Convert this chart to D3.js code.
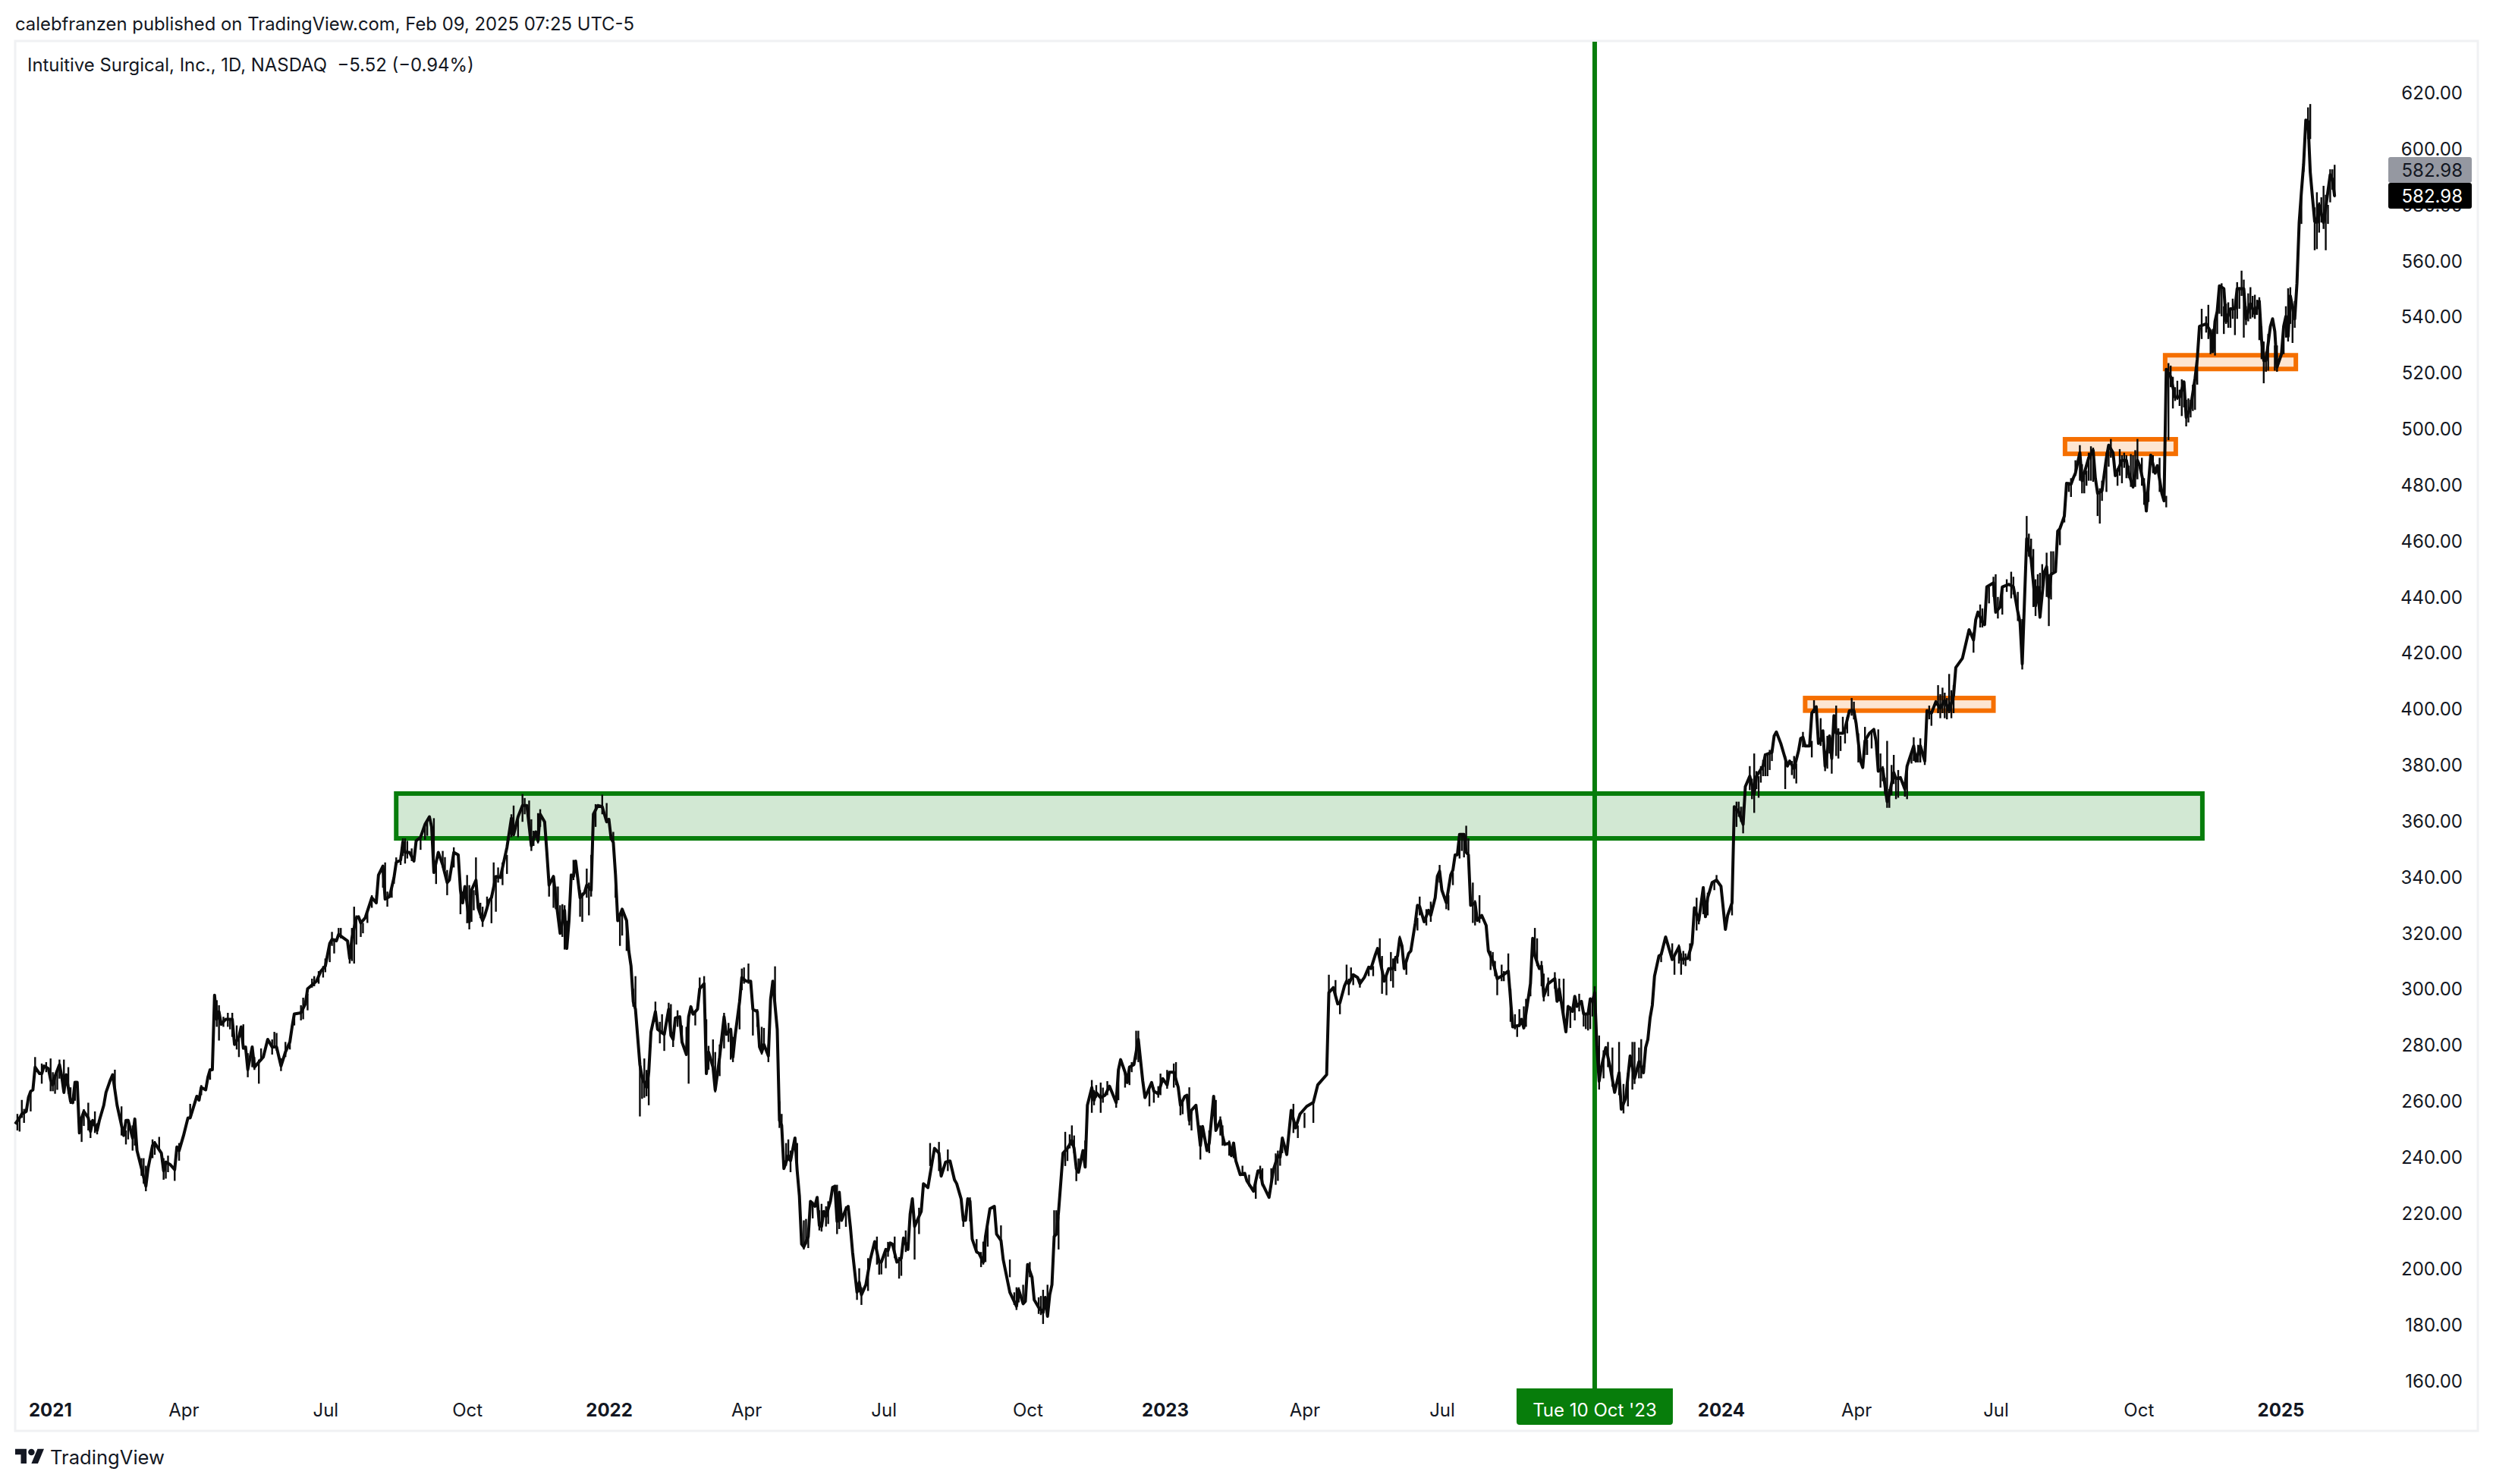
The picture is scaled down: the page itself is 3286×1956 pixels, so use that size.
<!DOCTYPE html>
<html><head><meta charset="utf-8">
<script src="https://cdn.jsdelivr.net/npm/d3@7"></script>
<style>html,body{margin:0;padding:0;background:#fff}svg{display:block}text{font-family:Inter,"Noto Sans",sans-serif}</style>
</head><body><svg id="c" width="3286" height="1956"></svg>
<script>
// [session number, close]
const close2021=[[0,251.7],[2,253.9],[3,255.3],[5,256.2],[6,261.2],[7,263.4],[8,263.9],[9,272],[11,269.7],[12,269.7],[13,272.4],[15,271.5],[16,267.5],[17,265.7],[18,268.8],[20,272.9],[21,268.8],[22,263],[23,269.3],[25,259.8],[26,259.3],[27,266.6],[28,266.6],[29,248.5],[30,253.9],[31,256.2],[33,253.9],[34,249],[35,253],[37,249.4],[38,253],[40,258.4],[41,263],[43,267.5],[44,269.3],[45,263.9],[46,258.4],[49,247.6],[50,253],[51,253],[53,246.7],[54,253.5],[55,242.2],[57,235.9],[59,229.5],[60,235.9],[62,244],[63,244.9],[66,241.3],[67,235],[68,238.1],[70,237.2],[72,235.4],[73,243.5],[74,242.2],[76,247.6],[78,253.9],[79,253.9],[82,261.6],[83,260.2],[84,264.8],[86,263.9],[87,268.4],[88,271.1],[89,271.1],[90,297.7],[91,289.1],[92,291.8],[93,287.3],[95,289.1],[98,289.1],[99,280.1],[101,282.8],[102,286.4],[103,278.8],[104,279.2],[105,271.1],[107,279.2],[108,272],[110,273.8],[112,275.6],[114,281.9],[116,279.2],[118,279.2],[120,272.4],[122,277.4],[124,281],[125,286.4],[126,291],[129,291.4],[131,294.6],[132,300],[136,302.7],[138,306.3],[140,308.1],[142,316.2],[143,317.6],[145,317.1],[146,319.4],[150,317.1],[151,310.8],[152,318],[154,325.3],[155,325.7],[156,323.5],[158,325.3],[161,332.5],[163,330.7],[164,340.6],[166,343.8],[167,332],[169,332.9],[171,339.7],[172,345.1],[174,346],[175,352.4],[176,348.7],[178,348.7],[180,345.6],[181,352.8],[183,354.1],[185,358.7],[187,361.4],[188,357.8],[189,341.5],[191,348.7],[193,344.2],[195,337.9],[196,338.8],[198,348.7],[200,347.8],[201,335.2],[202,330.7],[203,336.5],[205,323.9],[206,335.2],[208,338.8],[209,328.9],[211,324.3],[212,326.2],[214,331.6],[215,332.5],[217,340.1],[219,339.7],[222,350.5],[224,360.9],[225,355],[227,361.4],[229,365.4],[231,365.4],[233,351],[235,356],[236,352.8],[237,362.3],[239,359.6],[240,348.7],[241,337],[243,340.1],[244,332.5],[246,319.8],[248,328],[249,314.4],[250,324.3],[251,340.6],[252,340.1],[253,345.6],[255,332.5],[257,334.3],[258,337],[260,335.2],[261,362.3],[263,365.4],[265,365]];
const close2022=[[267,359.6],[268,360.5],[269,353.7],[270,352.3],[271,340.6],[272,324.3],[274,328.4],[276,324.3],[277,313.5],[278,308.1],[279,295.4],[280,292.7],[282,272.9],[283,268.4],[285,264.8],[286,270.2],[287,284.6],[289,291.8],[290,285.5],[293,283.7],[295,292.7],[296,283.3],[297,281.9],[298,289.6],[300,290],[301,281],[303,276.5],[304,290],[305,293.6],[306,290.9],[308,292.7],[309,300],[311,301.8],[312,269.7],[313,277.4],[315,272],[316,263.8],[318,275.6],[320,290],[321,283.7],[323,285.5],[324,275.6],[325,283.3],[327,295.4],[328,304],[330,302.7],[332,302.7],[333,292.7],[335,291.8],[336,279.2],[337,277.4],[338,280.1],[340,276],[341,296.3],[342,302.7],[344,285.5],[345,253],[346,251.2],[347,235.8],[349,240.4],[350,238.6],[352,246.7],[353,235],[354,226],[355,208.8],[356,207.8],[358,211.5],[359,224.1],[361,222.3],[362,225.5],[363,215.5],[364,215.1],[365,220.5],[366,218.7],[368,224.1],[369,229.1],[370,229.5],[371,216.9],[372,227.3],[373,217.3],[375,221.4],[376,222.3],[377,215.1],[378,206],[380,191.6],[381,195.2],[382,190.7],[384,194.3],[386,203.3],[388,209.7],[390,202.4],[391,202.4],[393,206.9],[394,206.5],[395,209.2],[396,208.8],[398,202.4],[400,203.8],[401,211],[403,206.9],[404,219.6],[405,225],[406,215.1],[408,218.7],[409,220.5],[410,230.4],[412,229],[414,238.5],[415,243],[417,241.3],[418,233.1],[420,238.1],[422,238.5],[424,231.8],[425,230.4],[427,225],[428,217.3],[429,217.3],[430,225],[431,224.1],[432,210.6],[434,206],[435,205.6],[437,202.4],[438,211.5],[440,221.4],[442,222.3],[443,212.4],[445,210.1],[446,203.3],[449,191.6],[452,186.6],[453,192.5],[455,187.5],[456,188.4],[457,201.5],[459,197],[460,188.9],[462,186.2],[464,184.4],[465,189.8],[466,183],[467,190.7],[468,194.3],[469,211.5],[470,212.4],[471,220.5],[473,241.3],[475,243],[477,245.8],[478,243],[479,235.8],[480,234.5],[482,242.2],[483,236.3],[484,258.4],[486,264.7],[487,260.2],[488,262.9],[490,261.1],[492,262],[494,265.2],[497,259.3],[498,271],[499,274.7],[501,270.2],[502,266.5],[503,272],[505,272.9],[507,281.9],[509,267],[510,261.1],[513,266.5],[514,263.4],[516,262.5],[518,267.9]];
const close2023=[[520,265.6],[521,270.2],[523,270.2],[525,264.8],[526,258.4],[528,261.6],[529,262],[530,253],[531,256.6],[533,258.4],[535,244],[536,250.8],[538,242.2],[539,244.9],[541,261.6],[542,249.4],[544,253],[545,247.6],[546,244.4],[548,244.9],[549,240.4],[550,244.9],[551,238.6],[553,233.6],[555,234.1],[556,231.4],[559,227.7],[561,235],[562,235],[563,230.4],[566,225.5],[568,235.4],[570,240.4],[571,239.9],[572,246.7],[574,240.8],[576,256.6],[578,250.3],[580,255.3],[583,258],[586,259.4],[588,265.7],[592,269.3],[593,298.6],[595,300.4],[597,294.6],[598,295],[600,300.9],[601,302.7],[602,301.8],[604,305],[606,304],[607,301.8],[609,304],[611,307.7],[612,307.2],[614,312.2],[615,314.4],[618,302.7],[620,307.2],[622,307.2],[623,310.8],[624,311.7],[625,318],[626,315.3],[627,307.2],[629,312.6],[630,313.5],[632,323.5],[633,329.8],[634,329.3],[636,323.9],[638,328],[639,326.2],[641,332.5],[642,340.2],[643,342],[644,335.2],[646,330.7],[648,340.6],[649,342.4],[650,347.8],[651,347.8],[652,355.1],[654,355.1],[655,348.7],[656,347.8],[657,329.8],[659,330.7],[660,324.4],[662,326.2],[664,322.6],[665,313.5],[667,309.9],[669,303.6],[671,304.5],[674,306.3],[676,286.4],[679,286.9],[680,289.1],[681,286],[684,301.8],[685,318],[686,311.7],[688,307.2],[689,308.1],[690,297.3],[692,301.8],[695,303.6],[696,295.5],[697,300],[700,284.6],[701,293.7],[703,291.9],[704,297.3],[705,293.7],[707,295.5],[708,291],[710,291],[711,296.4],[712,295.5],[713,298.6],[714,279.2],[715,267],[716,272],[718,279],[720,272],[722,263],[724,270],[725,257],[727,261],[729,276],[731,268],[733,274],[735,270],[736,279],[737,281.9],[738,289.6],[739,294.1],[740,304.5],[742,311.7],[743,312.2],[745,318.5],[748,310.4],[751,314.9],[752,310.4],[755,310.8],[757,316.2],[758,328.9],[760,324.4],[762,336.1],[763,325.7],[764,332.5],[766,337.9],[768,338.8]];
const close2024=[[770,336.6],[772,321.2],[773,326.2],[775,330.7],[776,365],[778,363.2],[780,358.7],[781,372.2],[783,375.9],[785,369.5],[786,375.9],[789,379.5],[790,383.5],[793,384.4],[794,390.3],[795,391.7],[797,387.6],[799,382.2],[800,379.5],[801,381.3],[803,378.6],[805,384.9],[806,389.4],[807,389.8],[808,386.7],[810,386.7],[811,398.4],[813,400.7],[814,387.6],[815,388.5],[816,392.1],[817,379.5],[819,390.3],[820,382.2],[821,397.5],[822,391.2],[825,391.2],[826,393],[828,399.3],[830,399.3],[831,394.8],[833,381.3],[834,379],[835,388.5],[837,391.2],[839,392.6],[840,388.5],[841,377.7],[843,378.6],[845,366.8],[846,369.5],[848,377.2],[849,375],[851,375.4],[853,371.3],[854,379.5],[857,386.7],[858,381.3],[860,386.7],[862,381.3],[863,399.3],[865,398.4],[867,402.5],[869,400.2],[871,402.9],[873,399.3],[875,404.8],[876,414.7],[879,418],[882,428.2],[884,424.5],[885,431.8],[886,434.5],[888,430.9],[889,430],[890,443.5],[893,444.9],[894,434.5],[896,436.3],[897,443.5],[900,444.4],[902,443.5],[904,434.5],[905,430.9],[906,416],[908,460.7],[909,457],[910,453.4],[912,436.7],[913,443.5],[914,432.7],[916,448.9],[917,450.7],[918,439.9],[919,448],[921,448.9],[922,463.4],[923,464.3],[925,468.8],[926,480.5],[928,480.1],[929,482.3],[930,484.1],[932,491.4],[933,481.4],[934,484.1],[936,489.6],[938,492.3],[939,482.3],[940,476.9],[942,477.8],[944,489.6],[945,494.1],[947,491.4],[948,483.2],[950,486.8],[951,488.7],[953,488.7],[954,484.1],[956,479.2],[958,488.7],[959,486.8],[961,479.6],[962,470.6],[964,490.5],[966,484.1],[967,486.8],[969,476.9],[970,474.2],[971,521.2],[973,518.5],[975,511.2],[977,511.2],[979,516.7],[980,504],[982,507.6],[984,518],[985,524.8],[986,536.5],[989,537.4],[991,534.7],[992,527.5],[993,538.3],[994,541.9],[995,551],[997,550],[998,538.3],[1000,542.8],[1002,542.8],[1003,550],[1006,550],[1007,539.2],[1009,544.6],[1011,541],[1013,545.5],[1014,532],[1015,524.3],[1016,524.3],[1018,536.5],[1019,539.2],[1020,534.7],[1021,522]];
const close2025=[[1023,526.6],[1024,536.5],[1025,540.1],[1026,532.9],[1027,547.4],[1029,539.2],[1030,551.9],[1031,573.6],[1032,584.4],[1033,594.4],[1034,610.2],[1035,609.7],[1036,591.6],[1037,582.6],[1038,574],[1039,573.6],[1040,579.9],[1042,573.6],[1043,579],[1045,590.7],[1046,589],[1047,582.98]];
// [session number, high, low]
const wicks2021=[[1,255.3,249.4],[2,253.5,249],[3,260.3,253.9],[4,257.1,252.1],[7,263.4,256.2],[9,275.6,270.2],[12,273.3,266.1],[14,273.8,270.2],[16,275.1,263.4],[17,270.2,263.4],[18,268.4,262.5],[19,271,263.9],[20,274.7,267.9],[22,274.7,262.5],[24,272,262.5],[25,264.8,258.9],[27,267,260],[30,253.9,245.3],[31,257,251],[33,259.3,249.4],[34,253,246.7],[36,256.2,248.5],[37,252,248],[45,271.1,263.9],[48,258,247.6],[50,249.4,244.4],[51,253.5,246.2],[53,251.2,242.2],[54,253.5,244],[57,239.5,233.2],[58,239.5,230.4],[59,236.8,227.7],[62,246.2,239.5],[63,245.6,240.7],[65,247.1,242.6],[67,239.5,231.8],[68,238.6,232.2],[69,240.4,234.5],[72,236.8,231.4],[74,244.9,238.6],[79,258.9,253.9],[84,265.6,262],[88,271.1,267.5],[91,295.9,286.4],[92,294.1,281.5],[94,290,286.4],[96,291.4,286.4],[97,289,285.5],[98,291.4,282.8],[100,286.9,278.3],[101,282.8,275.6],[103,287.3,278.3],[105,277,268.4],[107,279.6,272],[108,275.6,271],[110,274.7,266.1],[111,278.7,274.2],[116,281.9,276.5],[117,284.6,279.2],[118,284.2,277.9],[120,275.2,270.6],[122,281,275.6],[124,280.5,278.3],[126,291,286.9],[129,294.1,288.7],[130,296.8,289.1],[132,298.2,292.3],[134,303.6,300.4],[135,304.5,300.9],[137,306.3,301.8],[139,308.1,304],[140,310.8,305.9],[142,316.2,309.5],[143,320.3,315.3],[144,318,312.6],[146,321.7,319],[147,321.7,318],[151,313.5,309],[152,321.7,309.9],[153,329.3,309],[154,326.2,315.8],[156,324.4,318.5],[157,323.5,319.8],[159,327,323.5],[161,333.4,328.9],[163,333.4,330.2],[166,344.2,336.1],[167,345.1,332.5],[168,334.7,329.3],[170,337,332.5],[171,339.7,337.5],[172,346.9,344.2],[174,347.8,344.2],[175,353.7,347.4],[176,353.7,344.7],[177,352.8,346.5],[179,350.1,345.6],[183,354.1,349.6],[185,358.7,353.2],[186,359.6,354.6],[189,360.9,341.5],[190,345.1,337.4],[193,349.2,343.3],[194,347,342.4],[195,342.4,333.4],[198,350.5,343.3],[201,335.2,326.6],[202,334.7,330.2],[204,340.6,323.4],[205,337,321.2],[206,335.2,323.9],[207,335.2,328],[208,346.9,333.4],[210,330.7,325.2],[211,329.3,322.1],[213,332.9,328],[215,333.4,323.4],[216,345.1,337],[217,338.8,327.5],[218,343.3,337.9],[220,345.1,337],[222,347.8,341],[224,362.3,354.1],[225,365.4,354.6],[227,361.4,354.1],[229,369.5,359.6],[230,368.1,362.3],[232,367.2,358.2],[233,360.5,349.2],[234,356.4,351],[236,362.7,351.9],[237,364.1,357.8],[241,340.1,332.9],[243,339.7,328.9],[244,336.5,328.4],[245,336.5,326.2],[246,329.8,319.4],[247,330.2,318.5],[248,329.8,314],[249,324.3,314],[252,346,338.8],[253,346,341.5],[255,335.2,325.7],[256,334.3,323.9],[258,342.9,332.5],[259,337.9,326.2],[260,347.8,332.9],[262,365.9,357.8],[265,369.3,362.3]];
const wicks2022=[[267,366.3,359.6],[270,356,350.5],[271,341.5,332.5],[273,326.2,315.3],[274,328,319],[276,324.8,313.5],[279,300,293.6],[280,304.5,292.7],[282,272.9,254.4],[283,269.3,260.7],[284,275.1,261.1],[285,271,261.6],[286,271,258.4],[289,295.4,288.2],[291,288.2,280.5],[292,290.9,283.7],[293,283.7,277.8],[295,295,290],[296,294.5,283.3],[297,284.6,279.2],[299,292.3,286.4],[301,286.9,280.5],[303,286.4,276.5],[304,290,266.1],[307,291.8,286.9],[309,304,300],[311,304.5,294.5],[312,289.1,269.3],[313,279.6,271.1],[315,281.9,271.1],[316,277.4,263],[318,280.1,268.8],[320,291.4,278.7],[322,287.8,281],[323,284.6,274.7],[324,282.8,273.8],[327,296.3,285.5],[328,307.2,299.5],[329,307.6,301.8],[331,309,301.8],[333,293.6,283.3],[335,292.7,286.4],[337,286.4,276.5],[338,286,279.2],[340,280.1,273.8],[343,308,294.5],[345,259.8,250.3],[346,255.3,249.4],[348,244.9,236.8],[349,246.2,238.6],[350,242.2,234.5],[353,244.9,234],[356,217.3,206.9],[357,217.8,208.7],[358,214.2,207.4],[360,224,218],[363,220.9,213.7],[364,223.2,213.3],[366,222.3,215.1],[367,224.1,216],[371,230,212.4],[372,227.7,214.2],[375,222.3,215],[380,194.3,188.9],[381,200.2,191.6],[382,193.4,187.1],[385,203.8,192.1],[389,211.5,201.5],[390,203.3,197.9],[391,203,198],[393,207.4,200.2],[394,209.6,204.3],[397,211.5,203.8],[399,204.2,196.5],[400,204.2,197.5],[402,213.7,206],[406,215.1,203.3],[408,221.8,212.4],[413,244.9,236.7],[417,245.3,234.9],[421,242.6,234.9],[428,217.3,215],[431,225.5,216.9],[434,210.6,205.6],[436,206,200.6],[437,209.7,201.5],[438,211.5,202.4],[439,215.1,207.9],[445,215.5,208.8],[449,203.3,197],[451,191.6,187.1],[452,193.4,185.3],[453,193.4,188],[455,194.3,187.5],[458,202.4,197],[462,189.8,183.9],[463,190.3,183.5],[464,192.5,180.3],[466,194.3,183],[469,220.9,211.5],[470,220.9,212.4],[471,218.7,206.9],[474,248.9,236.7],[475,243.9,238.5],[476,248,243],[477,251.2,243.9],[478,247.6,241.3],[479,236.7,231.3],[480,239.4,234],[483,245.8,236.7],[486,267.4,255.7],[487,263.8,258.4],[488,265.6,261.1],[490,266.5,255.7],[491,264.7,259.3],[493,267,262],[497,262.9,257.5],[498,271,260.2],[501,270.2,264.7],[503,270.2,265.6],[504,273.8,270.2],[506,285,274.7],[507,285,273.8],[512,264.7,258],[514,264.7,259.3],[516,265.2,261.1],[517,269.7,262]];
const wicks2023=[[520,271,264.3],[523,273.3,264.7],[524,273.8,265.6],[526,259.3,254.8],[527,260.2,255.2],[530,264.8,251.2],[531,256.6,249.4],[535,251.2,239],[539,249.4,241.3],[542,260.3,249.4],[544,254.4,247.6],[545,251.2,244],[548,245.8,240.4],[550,245.3,239.5],[554,236.8,233.2],[557,233.6,229.5],[560,231.4,225],[562,236.8,232.2],[563,235.9,229.5],[567,235.9,229.5],[569,241.2,230],[570,242.2,231.4],[571,242.2,236.8],[572,247.1,241.3],[577,258.9,248.5],[579,251.2,246.7],[582,255.7,250.3],[586,259.4,252.1],[593,305,296.4],[596,303.1,297.3],[598,295.5,290.9],[601,308.6,302.7],[602,303.6,297.7],[603,307.6,303.6],[604,305.4,301.3],[607,303.6,300.4],[611,308.1,304.5],[613,308.1,304.5],[616,318,311.7],[617,311.7,298.2],[619,304.5,297.7],[621,313.1,302.7],[622,310.8,300.4],[623,311.7,306.3],[624,312.6,309],[625,318.9,315.3],[628,310.8,305],[633,325.3,320.8],[634,332.9,326.2],[637,328.4,322.6],[639,331.1,323.9],[643,344.2,337.9],[646,332.5,328.4],[647,333.4,328],[649,341.5,337],[652,355.5,346.5],[653,355.5,349.2],[654,355.5,346.9],[655,358.2,348.3],[656,353.7,348.3],[658,337.9,323.5],[659,331.6,322.6],[661,333.4,323.5],[666,313.5,306.7],[667,313.1,308.1],[668,309.9,304.5],[669,304.5,297.7],[671,308.6,302.7],[672,306.3,302.7],[674,312.6,306.7],[675,300,288.2],[677,290.9,285.5],[678,287.3,282.8],[679,292.7,286.4],[681,293.7,286],[682,296.4,286.4],[684,303.6,297.3],[686,321.7,311.7],[687,318,308.1],[689,309.9,300.9],[690,305.4,295.5],[692,304,297.3],[695,305.9,300],[697,303.6,295.5],[699,303.6,290.1],[702,293.7,286],[704,297.3,288.7],[706,298.2,291.9],[708,291.9,286.5],[709,291,285.6],[710,291,285.1],[711,296.4,285.6],[712,296.4,290.1],[713,300.9,293.7],[715,283.3,264],[717,278,268],[719,281,272],[721,279,265],[724,281,262],[726,266,255.5],[728,270,258],[730,281,264],[731,281,266],[733,279,268],[734,282,268],[743,311.7,309.5],[748,316.2,310.4],[749,311.7,305],[751,315.8,309],[752,312.6,305],[753,313.5,308.6],[754,312.6,308.1],[756,316.2,309.9],[759,332.5,320.8],[760,326.2,323],[762,336.6,326.6],[764,334.3,326.2],[767,338.4,335.2],[768,340.6,337.9]];
const wicks2024=[[775,330.7,326.2],[777,366.8,357.8],[778,366.8,361.4],[779,365,359.6],[780,365,355.5],[783,379.5,370.9],[784,375,367.7],[785,384,362.8],[786,377.7,371.3],[787,375.9,368.2],[788,379.5,373.6],[789,381.7,375.9],[790,384,375.9],[791,384,375.9],[792,385.3,378.1],[793,384.9,381.3],[799,383.1,371.3],[802,381.3,376.3],[803,383.1,375],[804,380.4,373.3],[807,391.7,386.2],[811,388.5,382.6],[812,403,398.4],[815,396.6,386.7],[817,384,377.7],[818,390.3,378.6],[819,390.3,384],[820,387.6,376.8],[822,401.1,383.1],[823,393,382.2],[824,390.3,384.9],[825,397.1,391.2],[826,393,387.6],[827,397.1,391.2],[829,403.8,397.5],[830,402.5,396.2],[832,391.2,380.8],[835,393.5,383.5],[836,388.9,383.5],[838,392.1,385.8],[841,392.6,378.6],[842,384,371.8],[843,379.5,374.1],[844,375.4,369.5],[845,388.5,364.6],[846,371.3,364.6],[847,379.9,369.1],[848,383.5,373.1],[849,375.9,367.7],[850,378.1,368.2],[853,373.6,368.6],[854,379.5,367.7],[856,384,380.4],[857,389.8,381.3],[859,387.1,380.8],[860,389.4,380.8],[862,386.7,379.9],[864,401.1,396.2],[865,398.4,393.9],[868,408.4,398.4],[869,405.2,396.6],[870,407.5,398.4],[871,405.7,396.6],[872,403.8,396.2],[873,412.4,398.4],[874,406.6,396.6],[875,408.4,398.4],[884,427.3,420],[887,437.2,429],[888,435.8,429],[891,443.5,437.6],[893,447.1,439.9],[894,448,434],[895,439.9,432.2],[897,443.5,433.6],[899,446.2,441.7],[901,448.9,439.4],[902,447.1,440.8],[904,441.7,431.3],[906,432,414],[908,468.8,459.8],[909,462.5,454.3],[910,460.7,453.4],[911,457,436.3],[912,446.2,433.1],[913,448,439.9],[914,448.5,432.2],[915,451.6,443],[917,455.7,439.9],[918,448,429.5],[919,456.2,439],[920,456.2,448.9],[923,465.2,458.4],[925,470.6,466.5],[927,480.9,477.4],[928,482.3,475.6],[930,488.7,483.2],[932,494.1,481.4],[933,487.3,476.9],[934,483.2,476.9],[935,485,479.6],[936,491.4,481.4],[937,493.7,481.4],[938,493.2,481],[940,478.3,468.8],[941,478.7,466.1],[942,481.4,474.2],[944,491.4,477.4],[945,494.1,486.4],[946,496.3,489.6],[949,485.9,479.6],[950,492.7,483.2],[951,490.5,480.5],[952,491.4,486],[953,490.5,482.3],[954,486.8,482.3],[955,490.9,479.2],[956,490.5,478.7],[957,492.3,479.2],[958,496.3,481.9],[960,489.6,479.6],[961,482.3,472.8],[962,475.1,470.2],[963,479.6,473.8],[965,490.5,484.1],[968,489.6,477.4],[971,476,471.9],[972,523.4,495.9],[973,522.5,514.8],[974,518.5,507.2],[975,514.8,509.9],[976,517.1,510.3],[977,513.9,508.1],[978,517.6,504.5],[979,517.1,507.6],[980,510.3,500.8],[981,510.8,502.2],[982,510.3,504],[983,515.7,506.3],[984,518.5,506.7],[985,524.8,515.7],[987,542.8,532],[989,540.1,534.3],[990,544.2,532],[991,534.7,526.6],[992,535.6,527],[993,537.4,526.1],[994,541.9,533.8],[995,551.4,541],[996,551.9,540.1],[997,543.7,533.8],[998,544.6,537.4],[999,545.1,536],[1000,543.3,536],[1001,546.4,539.2],[1002,543.7,533.4],[1003,552.3,539.2],[1004,550.5,542.8],[1005,556.4,547.4],[1006,553.2,532.5],[1007,543.7,537],[1008,548.3,538.3],[1009,550.5,539.2],[1010,547.4,539.7],[1011,547.8,539.2],[1012,546,540.6],[1013,546.9,531.6],[1014,536.5,524.8],[1015,531.1,516.2],[1016,527.5,520.3],[1017,533.8,520.7],[1020,529.7,520.7],[1021,529.7,520.3]];
const wicks2025=[[1024,536.5,526.6],[1025,543.7,532.5],[1026,550.1,531.1],[1027,550.5,537.4],[1028,543.7,530.6],[1029,545.6,536],[1032,584.4,573.1],[1033,597.5,591.7],[1035,614.7,603.4],[1036,615.9,603.4],[1038,579,563.7],[1039,584.4,564.1],[1040,580.8,570],[1041,582.6,573.6],[1042,586.7,571.3],[1043,583.5,563.7],[1044,579.9,573.1],[1045,592.6,580.8],[1046,592.6,585.3],[1047,594.2,582.6]];

const priceTicks=[620,600,580,560,540,520,500,480,460,440,420,400,380,360,340,320,300,280,260,240,220,200,180,160];
const timeTickSessions=[15.7,76,140,204,268,330,392,457,519,582,644,770,831,894,958.5,1022.6];
const timeTickLabels=["2021","Apr","Jul","Oct","2022","Apr","Jul","Oct","2023","Apr","Jul","2024","Apr","Jul","Oct","2025"];
const yearLabels=["2021","2022","2023","2024","2025"];
// zones: session start, session end, price top, price bottom
const greenZone=[[172,987.3,369.7,353.7]];
const orangeZones=[[808,893,403.8,399.3],[925.3,975.3,496.2,491],[970.5,1029.5,526.2,521.3]];
const markedSession=713, markedLabel="Tue 10 Oct '23";
const lastPrice=582.98;
const titleText="calebfranzen published on TradingView.com, Feb 09, 2025 07:25 UTC-5";
const legendText="Intuitive Surgical, Inc., 1D, NASDAQ  \u22125.52 (\u22120.94%)";

const ink="#131722", green="#077d0b", orange="#f56f00", black="#0a0a0a";
const svg=d3.select("#c");
const x=d3.scaleLinear().domain([0,1100]).range([20,3232]);
const y=d3.scaleLinear().domain([160,620]).range([1820,122]);
svg.append("rect").attr("width",3286).attr("height",1956).attr("fill","#fff");
svg.append("rect").attr("x",20).attr("y",54).attr("width",3246).attr("height",1832).attr("fill","#fff").attr("stroke","#f0f1f3").attr("stroke-width",3);

// vertical marker
svg.append("line").attr("x1",x(markedSession)).attr("x2",x(markedSession)).attr("y1",55).attr("y2",1832).attr("stroke",green).attr("stroke-width",6);

function zone(data,col){
 svg.append("g").selectAll("rect").data(data).join("rect")
  .attr("x",d=>x(d[0])).attr("width",d=>x(d[1])-x(d[0]))
  .attr("y",d=>y(d[2])).attr("height",d=>y(d[3])-y(d[2]))
  .attr("fill",col).attr("fill-opacity",.18).attr("stroke",col).attr("stroke-width",6);
}
zone(greenZone,green); zone(orangeZones,orange);

const wicks=[...wicks2021,...wicks2022,...wicks2023,...wicks2024,...wicks2025];
svg.append("g").selectAll("line").data(wicks).join("line")
 .attr("x1",d=>x(d[0])).attr("x2",d=>x(d[0])).attr("y1",d=>y(d[1])).attr("y2",d=>y(d[2]))
 .attr("stroke",black).attr("stroke-width",2.4);
const closes=[...close2021,...close2022,...close2023,...close2024,...close2025];
svg.append("path").datum(closes)
 .attr("d",d3.line().x(d=>x(d[0])).y(d=>y(d[1])))
 .attr("fill","none").attr("stroke",black).attr("stroke-width",4).attr("stroke-linejoin","round");

// price axis
const ya=svg.append("g").attr("transform","translate(3246,0)")
 .call(d3.axisLeft(y).tickValues(priceTicks).tickFormat(d3.format(".2f")).tickSize(0).tickPadding(0));
ya.select(".domain").remove();
ya.selectAll("text").attr("fill",ink).style("font-size","24px").style("font-family","Inter").attr("dy","0.36em");

// time axis
const xa=svg.append("g").attr("transform","translate(0,1858)")
 .call(d3.axisBottom(x).tickValues(timeTickSessions).tickFormat((d,i)=>timeTickLabels[i]).tickSize(0).tickPadding(0));
xa.select(".domain").remove();
xa.selectAll("text").attr("fill",ink).attr("y",0).attr("dy","0.36em").style("font-size","24px").style("font-family","Inter")
 .style("font-weight",(d,i)=>yearLabels.includes(timeTickLabels[i])?"700":"400");

// marker label
function tag(x0,y0,w,h,fill){
 svg.append("path").attr("fill",fill).attr("d",`M${x0},${y0}h${w}v${h-4}q0,4 -4,4h${-(w-8)}q-4,0 -4,-4z`);
}
tag(x(markedSession)-103,1830,206,48,green);
svg.append("text").attr("x",x(markedSession)).attr("y",1858).attr("dy","0.36em").attr("text-anchor","middle")
 .attr("fill","#fff").style("font-size","24px").text(markedLabel);

// last price tags
svg.append("rect").attr("x",3148).attr("y",207).attr("width",110).attr("height",34).attr("rx",3).attr("fill","#9598a1");
svg.append("rect").attr("x",3148).attr("y",241).attr("width",110).attr("height",34).attr("rx",3).attr("fill","#000");
svg.append("text").attr("x",3246).attr("y",224).attr("dy","0.36em").attr("text-anchor","end").attr("fill",ink).style("font-size","24px").text(d3.format(".2f")(lastPrice));
svg.append("text").attr("x",3246).attr("y",258).attr("dy","0.36em").attr("text-anchor","end").attr("fill","#fff").style("font-size","24px").text(d3.format(".2f")(lastPrice));

// titles
svg.append("text").attr("x",20).attr("y",40).attr("fill",ink).style("font-size","23.85px").text(titleText);
svg.append("text").attr("x",36).attr("y",94).attr("fill",ink).style("font-size","23.9px").style("white-space","pre").text(legendText);

// brand
const logo=svg.append("g").attr("transform","translate(20,1905.5) scale(1.07)").attr("fill",ink);
logo.append("path").attr("d","M14 22H7V11H0V4h14v18zM28 22h-8l7.5-18h8L28 22z");
logo.append("circle").attr("cx",20).attr("cy",8).attr("r",4);
svg.append("text").attr("x",66).attr("y",1930).attr("fill",ink).style("font-size","25.6px").text("TradingView");
</script></body></html>
